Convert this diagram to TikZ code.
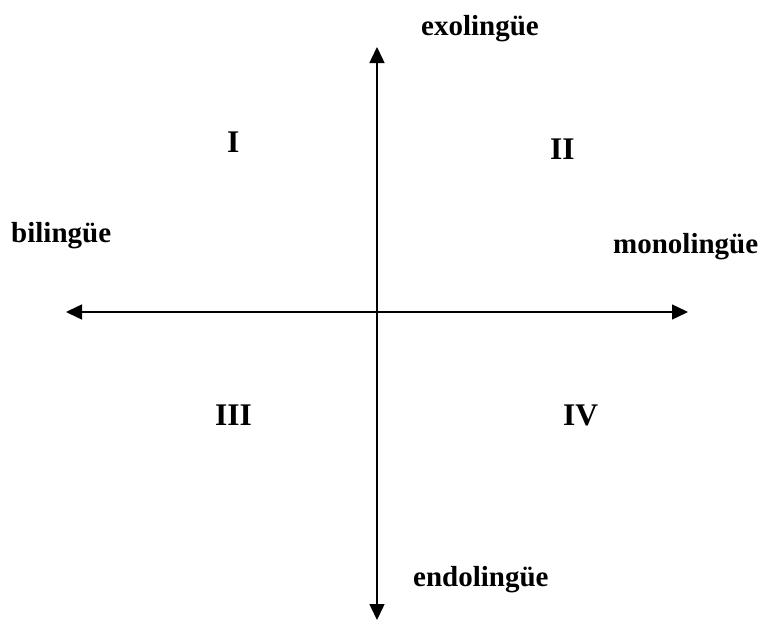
\documentclass[tikz,border=0pt]{standalone}
\usepackage{fontspec}
\setmainfont{Liberation Serif}
\usetikzlibrary{arrows.meta}
\tikzset{
  lbl/.style={font=\fontsize{29}{32}\selectfont\bfseries, inner sep=0pt, anchor=base west},
  num/.style={font=\fontsize{31.5}{34}\selectfont\bfseries, inner sep=0pt, anchor=base west},
  axis/.style={line width=1.5pt, {Triangle[length=16pt,width=15pt]}-{Triangle[length=16pt,width=15pt]}}
}
\begin{document}
\begin{tikzpicture}[x=1pt,y=-1pt]
\useasboundingbox (0,0) rectangle (761,621);
\coordinate (L) at (66,312);
\coordinate (R) at (688,312);
\coordinate (T) at (377,47);
\coordinate (B) at (377,620);
\draw[axis] (L) -- (R);
\draw[axis] (T) -- (B);
\node[lbl] (exo) at (421,35) {exolingüe};
\node[lbl] (bi) at (11,242) {bilingüe};
\node[lbl] (mono) at (613,253) {monolingüe};
\node[lbl] (endo) at (413,586) {endolingüe};
\node[num] (q1) at (227,152) {I};
\node[num] (q2) at (550,159) {II};
\node[num] (q3) at (215,425) {III};
\node[num] (q4) at (563,425) {IV};
\end{tikzpicture}
\end{document}
